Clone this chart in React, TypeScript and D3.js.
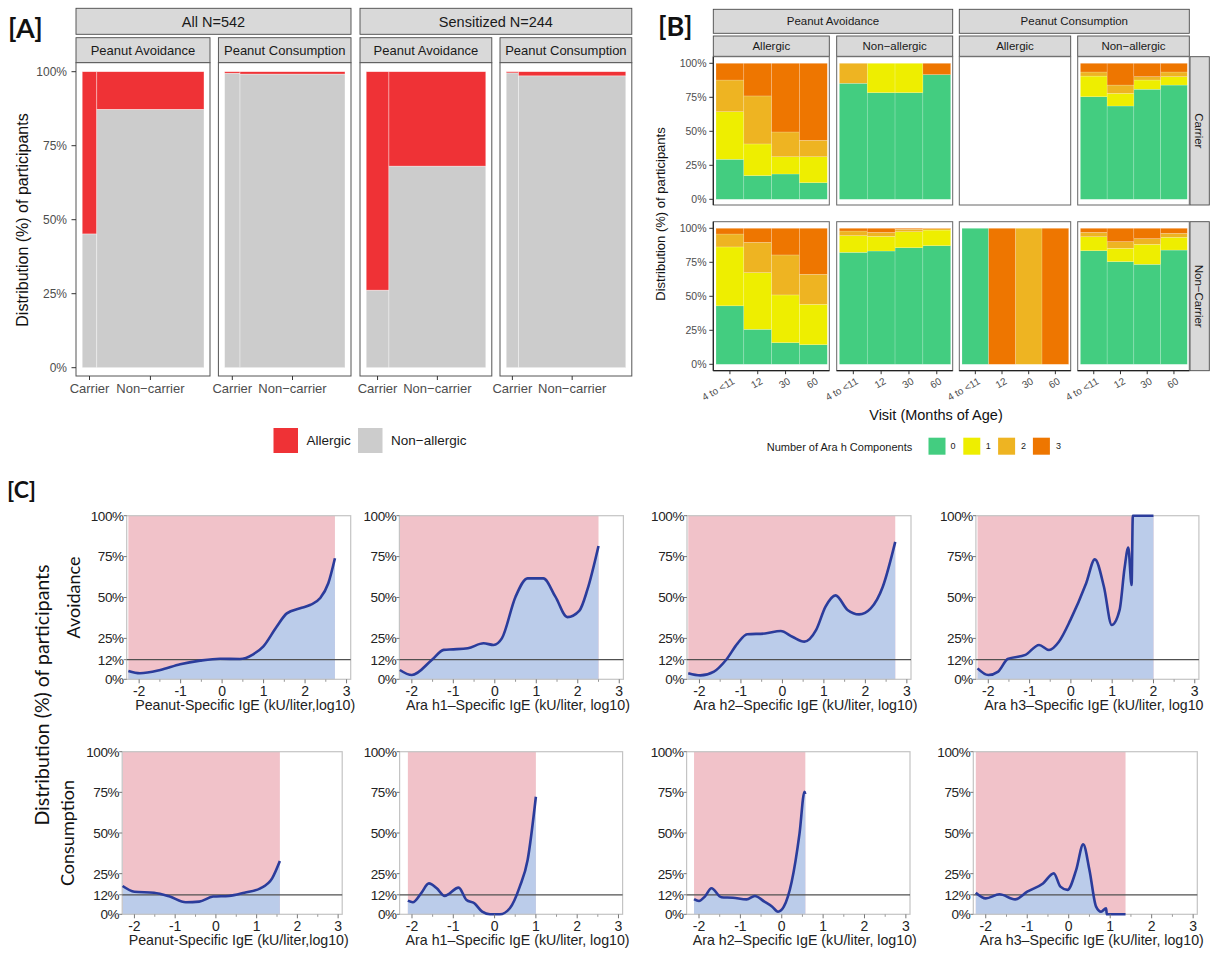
import React from "react";
import * as d3 from "d3";

const W = 1214;
const H = 962;
const SANS = "'Liberation Sans', Arial, Helvetica, sans-serif";
const LATO = "Lato, 'Open Sans', sans-serif";

// ---------------- Panel A: mosaic of allergy status by carrier status ----------------
const cohortsA = ["All N=542", "Sensitized N=244"];
const outcomesA = ["Peanut Avoidance", "Peanut Consumption"];
const genotypesA = ["Carrier", "Non\u2212carrier"];
const statusA = ["Allergic", "Non\u2212allergic"];
// share of each panel's participants that are carriers (column widths)
const carrierShareA = [0.12, 0.128, 0.19, 0.103];
// percent allergic among carriers / non-carriers, panel order:
// All-Avoidance, All-Consumption, Sensitized-Avoidance, Sensitized-Consumption
const allergicCarrierA = [54.8, 0.5, 73.8, 0.4];
const allergicNonCarrierA = [12.7, 0.8, 31.9, 1.4];
const yTicksA = [0, 25, 50, 75, 100];

// ---------------- Panel B: number of Ara h components by visit ----------------
const outcomesB = ["Peanut Avoidance", "Peanut Consumption"];
const statusB = ["Allergic", "Non\u2212allergic"];
const carrierRowsB = ["Carrier", "Non\u2212Carrier"];
const visitsB = ["4 to <11", "12", "30", "60"];
const componentsB = ["0", "1", "2", "3"];
const yTicksB = [0, 25, 50, 75, 100];
// percent of participants with 0,1,2,3 components at each visit
const carrierAvoidAllergic = [[29.4, 35, 23.3, 12.3], [17.4, 23.3, 35.3, 24], [18.6, 12.7, 18.2, 50.5], [12.2, 19.1, 12.1, 56.6]];
const carrierAvoidNonAllergic = [[85.3, 0, 14.7, 0], [78.4, 21.6, 0, 0], [78.4, 21.6, 0, 0], [91.7, 0, 0, 8.3]];
const carrierConsumeAllergic: number[][] = [];
const carrierConsumeNonAllergic = [[75.4, 15.2, 3, 6.4], [68.6, 9.3, 6.1, 16], [80.9, 6.8, 2.5, 9.8], [84, 6.2, 3.4, 6.4]];
const nonCarrierAvoidAllergic = [[43, 43.3, 9.5, 4.2], [25.7, 41.7, 22.3, 10.3], [15.9, 35.1, 29.4, 19.6], [14.4, 29.7, 22.1, 33.8]];
const nonCarrierAvoidNonAllergic = [[82.3, 12.3, 3.4, 2], [83.3, 10.8, 2.9, 3], [85.7, 11.8, 1.8, 0.7], [87.2, 11.5, 1, 0.3]];
const nonCarrierConsumeAllergic = [[100, 0, 0, 0], [0, 0, 0, 100], [0, 0, 100, 0], [0, 0, 0, 100]];
const nonCarrierConsumeNonAllergic = [[83.5, 10.3, 3.2, 3], [75.5, 9.8, 4.9, 9.8], [73.5, 14.7, 4.2, 7.6], [84, 9.4, 2.9, 3.7]];

// ---------------- Panel C: smoothed proportion allergic vs IgE ----------------
const rowLabelsC = ["Avoidance", "Consumption"];
const xTicksC = [-2, -1, 0, 1, 2, 3];
const xMinorC = [-2.5, -1.5, -0.5, 0.5, 1.5, 2.5];
const yTicksC = [0, 12, 25, 50, 75, 100];
const thresholdC = 12;
const axisTitlesTopC = [
  "Peanut-Specific IgE (kU/liter,log10)",
  "Ara h1\u2013Specific IgE (kU/liter, log10)",
  "Ara h2\u2013Specific IgE (kU/liter, log10)",
  "Ara h3\u2013Specific IgE (kU/liter, log10",
];
const axisTitlesBottomC = [
  "Peanut-Specific IgE (kU/liter,log10)",
  "Ara h1\u2013Specific IgE (kU/liter, log10)",
  "Ara h2\u2013Specific IgE (kU/liter, log10)",
  "Ara h3\u2013Specific IgE (kU/liter, log10)",
];
// [log10 IgE, percent allergic]
const peanutAvoid = [[-2.26, 5.1], [-1.98, 3.7], [-1.49, 5.7], [-1.01, 9.2], [-0.53, 11.4], [-0.05, 12.6], [0.43, 12.4], [0.75, 15.3], [0.99, 20], [1.31, 32], [1.56, 40.3], [1.88, 43.4], [2.12, 45.4], [2.36, 49.5], [2.56, 58.7], [2.72, 74]];
const araH1Avoid = [[-2.29, 5.7], [-2.0, 2.6], [-1.52, 11.8], [-1.23, 18], [-1.0, 18.3], [-0.65, 19], [-0.27, 22], [-0.03, 21], [0.17, 25], [0.5, 50.5], [0.79, 61.7], [1.17, 61.7], [1.46, 50.5], [1.75, 38], [2.04, 42], [2.23, 54.6], [2.5, 81.5]];
const araH2Avoid = [[-2.27, 3.7], [-1.98, 2.4], [-1.65, 4.7], [-1.36, 11.8], [-1.08, 22], [-0.85, 27.5], [-0.42, 28], [-0.04, 29.5], [0.24, 26], [0.53, 23], [0.81, 30], [1.04, 44.4], [1.28, 51.3], [1.57, 42.4], [1.85, 39.7], [2.13, 43.4], [2.42, 56.6], [2.72, 84]];
const araH3Avoid = [[-2.26, 6.7], [-2.0, 2.6], [-1.76, 4.7], [-1.53, 12.4], [-1.1, 14.9], [-0.77, 21], [-0.53, 17.9], [-0.29, 23], [-0.01, 36.3], [0.37, 58.7], [0.58, 73.3], [0.8, 56.6], [0.99, 33.2], [1.18, 42.4], [1.3, 68], [1.39, 80.6], [1.47, 57.6], [1.5, 100], [2.0, 100]];
const peanutConsume = [[-2.29, 17.4], [-2.0, 13.9], [-1.52, 13.3], [-1.13, 10.9], [-0.74, 7.4], [-0.41, 7.8], [-0.07, 10.9], [0.32, 11.3], [0.7, 13.3], [1.09, 16], [1.38, 22.1], [1.57, 32.8]];
const araH1Consume = [[-2.1, 8.4], [-1.98, 7.4], [-1.78, 12.9], [-1.59, 19], [-1.4, 16], [-1.21, 11.3], [-0.87, 16.4], [-0.68, 8.8], [-0.49, 6.8], [-0.3, 1.6], [-0.11, 0], [0.13, 0], [0.37, 3.7], [0.61, 17], [0.8, 33.4], [1.0, 72.3]];
const araH2Consume = [[-2.12, 9.4], [-2.0, 8.2], [-1.86, 10.9], [-1.7, 16], [-1.46, 10.5], [-1.18, 10.2], [-0.85, 9.2], [-0.65, 11.3], [-0.42, 7.8], [-0.23, 4.7], [-0.09, 1.6], [0.05, 4.7], [0.24, 20], [0.43, 49.8], [0.55, 75.4], [0.57, 74]];
const araH3Consume = [[-2.24, 13.3], [-2.0, 9.8], [-1.67, 12.3], [-1.29, 9.2], [-1.0, 13.9], [-0.62, 19], [-0.36, 25.2], [-0.2, 17], [-0.03, 15], [0.18, 27.3], [0.35, 43], [0.5, 27.3], [0.66, 4.7], [0.78, 1.6], [0.9, 3.7], [0.92, 0], [1.37, 0]];

// ---------------- colours ----------------
const RED = "#EF3236";
const GREY = "#CCCCCC";
const COMPONENT_COLORS = ["#43CD80", "#EEEE00", "#EEB422", "#EE7600"];
const PINK = "#F1C2C9";
const BLUE_FILL = "#BBCCEA";
const LINE_BLUE = "#2B3C9B";
const STRIP_FILL = "#D9D9D9";
const STRIP_STROKE = "#4a4a4a";

// ---------------- layout ----------------
const A_PANELS = [[76, 210], [218.4, 351], [360, 491.8], [500, 631.8]];
const A_PANEL_TOP = 62.7;
const A_PANEL_BOTTOM = 376;

const B_COLS = [[713.3, 829.3], [836.7, 952.7], [959.3, 1070.7], [1077.7, 1189.3]];
const B_ROWS = [
  { top: 56.7, bottom: 205, y100: 63.3, y0: 199.3 },
  { top: 221.7, bottom: 370.7, y100: 228.3, y0: 364.3 },
];

const C_ROWS = [
  { y100: 515.7, y0: 679.3, frames: [[126.7, 350.7], [399.4, 623.4], [687, 911], [975.9, 1198.9]] },
  { y100: 751.7, y0: 914.3, frames: [[122.2, 342.2], [399.6, 622.6], [686.6, 910], [973.3, 1197.3]] },
];
const C_XDOMAIN = [-2.3, 3.1];

function PanelA() {
  const y = d3.scaleLinear().domain([0, 100]).range([367.7, 71.7]);
  return (
    <g>
      <text x={8} y={38} fontFamily={LATO} fontWeight={700} fontSize={27} fill="#111">[A]</text>
      {cohortsA.map((c, g) => {
        const x0 = A_PANELS[2 * g][0];
        const x1 = A_PANELS[2 * g + 1][1];
        return (
          <g key={c}>
            <rect x={x0} y={8.3} width={x1 - x0} height={26} fill={STRIP_FILL} stroke={STRIP_STROKE} strokeWidth={0.9} />
            <text x={(x0 + x1) / 2} y={21.5} dy="0.36em" textAnchor="middle" fontSize={14.5} fill="#1a1a1a">{c}</text>
          </g>
        );
      })}
      {A_PANELS.map(([x0, x1], i) => {
        const share = carrierShareA[i];
        const xs = d3.scaleLinear().domain([0, 1]).range([x0 + 6.2, x1 - 6]);
        const cols = [
          { name: genotypesA[0], lo: 0, hi: share, allergic: allergicCarrierA[i] },
          { name: genotypesA[1], lo: share, hi: 1, allergic: allergicNonCarrierA[i] },
        ];
        return (
          <g key={i}>
            <rect x={x0} y={37.7} width={x1 - x0} height={25} fill={STRIP_FILL} stroke={STRIP_STROKE} strokeWidth={0.9} />
            <text x={(x0 + x1) / 2} y={50.2} dy="0.36em" textAnchor="middle" fontSize={13} fill="#1a1a1a">{outcomesA[i % 2]}</text>
            <rect x={x0} y={A_PANEL_TOP} width={x1 - x0} height={A_PANEL_BOTTOM - A_PANEL_TOP} fill="#fff" stroke="#555" strokeWidth={1} />
            {cols.map((c) => (
              <g key={c.name}>
                <rect x={xs(c.lo)} y={y(100 - c.allergic)} width={xs(c.hi) - xs(c.lo)} height={y(0) - y(100 - c.allergic)} fill={GREY} stroke="#fff" strokeOpacity={0.6} strokeWidth={0.6} />
                <rect x={xs(c.lo)} y={y(100)} width={xs(c.hi) - xs(c.lo)} height={y(100 - c.allergic) - y(100)} fill={RED} stroke="#fff" strokeOpacity={0.6} strokeWidth={0.6} />
                <line x1={xs((c.lo + c.hi) / 2)} x2={xs((c.lo + c.hi) / 2)} y1={A_PANEL_BOTTOM} y2={A_PANEL_BOTTOM + 4} stroke="#333" strokeWidth={1} />
                <text x={xs((c.lo + c.hi) / 2)} y={392.5} textAnchor="middle" fontSize={13} fill="#4d4d4d">{c.name}</text>
              </g>
            ))}
          </g>
        );
      })}
      {yTicksA.map((t) => (
        <g key={t}>
          <line x1={71.5} x2={76} y1={y(t)} y2={y(t)} stroke="#333" strokeWidth={1} />
          <text x={67} y={y(t)} dy="0.36em" textAnchor="end" fontSize={12} fill="#4d4d4d">{t}%</text>
        </g>
      ))}
      <text transform="translate(28,220) rotate(-90)" textAnchor="middle" fontSize={16} fill="#111">Distribution (%) of participants</text>
      {/* legend */}
      {statusA.map((s, i) => {
        const lx = [273.5, 358][i];
        return (
          <g key={s}>
            <rect x={lx} y={428} width={24.5} height={25} fill={i === 0 ? RED : GREY} />
            <text x={lx + 33} y={440.5} dy="0.36em" fontSize={13.5} fill="#1a1a1a">{s}</text>
          </g>
        );
      })}
    </g>
  );
}

function PanelB() {
  const grid = [
    [carrierAvoidAllergic, carrierAvoidNonAllergic, carrierConsumeAllergic, carrierConsumeNonAllergic],
    [nonCarrierAvoidAllergic, nonCarrierAvoidNonAllergic, nonCarrierConsumeAllergic, nonCarrierConsumeNonAllergic],
  ];
  const stack = d3.stack<Record<string, number>>().keys(componentsB);
  return (
    <g>
      <text x={658} y={36} fontFamily={LATO} fontWeight={700} fontSize={27} fill="#111">[B]</text>
      {outcomesB.map((o, g) => {
        const x0 = B_COLS[2 * g][0];
        const x1 = B_COLS[2 * g + 1][1];
        return (
          <g key={o}>
            <rect x={x0} y={9.3} width={x1 - x0} height={24} fill={STRIP_FILL} stroke={STRIP_STROKE} strokeWidth={0.9} />
            <text x={(x0 + x1) / 2} y={21.3} dy="0.36em" textAnchor="middle" fontSize={11.5} fill="#1a1a1a">{o}</text>
          </g>
        );
      })}
      {B_COLS.map(([x0, x1], c) => (
        <g key={c}>
          <rect x={x0} y={36} width={x1 - x0} height={20.3} fill={STRIP_FILL} stroke={STRIP_STROKE} strokeWidth={0.9} />
          <text x={(x0 + x1) / 2} y={46.2} dy="0.36em" textAnchor="middle" fontSize={11.5} fill="#1a1a1a">{statusB[c % 2]}</text>
        </g>
      ))}
      {B_ROWS.map((row, r) => {
        const y = d3.scaleLinear().domain([0, 100]).range([row.y0, row.y100]);
        return (
          <g key={r}>
            <rect x={1190} y={row.top} width={19.3} height={row.bottom - row.top} fill={STRIP_FILL} stroke={STRIP_STROKE} strokeWidth={0.9} />
            <text transform={`translate(1199.6,${(row.top + row.bottom) / 2}) rotate(90)`} dy="0.36em" textAnchor="middle" fontSize={11.5} fill="#1a1a1a">{carrierRowsB[r]}</text>
            {B_COLS.map(([x0, x1], c) => {
              const x = d3.scaleBand().domain(visitsB).range([x0 + 2.7, x1 - 2]).padding(0);
              const rowsData = grid[r][c].map((v, k) => {
                const rec: Record<string, number> = {};
                componentsB.forEach((comp, j) => (rec[comp] = v[j]));
                rec.__visit = k;
                return rec;
              });
              const series = stack(rowsData);
              return (
                <g key={c}>
                  <rect x={x0} y={row.top} width={x1 - x0} height={row.bottom - row.top} fill="#fff" stroke="#666" strokeWidth={1} />
                  {series.map((s, j) => (
                    <g key={j}>
                      {s.map((d, k) =>
                        d[1] - d[0] > 0 ? (
                          <rect key={k} x={x(visitsB[k])} y={y(d[1])} width={x.bandwidth()} height={y(d[0]) - y(d[1])} fill={COMPONENT_COLORS[j]} stroke="#fff" strokeOpacity={0.35} strokeWidth={0.5} />
                        ) : null
                      )}
                    </g>
                  ))}
                  {c === 0 && <line x1={x0} x2={x0} y1={row.top} y2={row.bottom} stroke="#222" strokeWidth={1.2} />}
                  {r === 1 && (
                    <g>
                      <line x1={x0} x2={x1} y1={row.bottom} y2={row.bottom} stroke="#222" strokeWidth={1.2} />
                      {visitsB.map((v) => {
                        const cx = (x(v) as number) + x.bandwidth() / 2;
                        return (
                          <g key={v}>
                            <line x1={cx} x2={cx} y1={row.bottom} y2={row.bottom + 3.5} stroke="#333" strokeWidth={1} />
                            <text transform={`translate(${cx + 2},${row.bottom + 6.5}) rotate(-30)`} dy="0.7em" textAnchor="end" fontSize={10} fill="#4d4d4d">{v}</text>
                          </g>
                        );
                      })}
                    </g>
                  )}
                </g>
              );
            })}
            {yTicksB.map((t) => (
              <g key={t}>
                <line x1={709.3} x2={713.3} y1={y(t)} y2={y(t)} stroke="#333" strokeWidth={1} />
                <text x={706.5} y={y(t)} dy="0.36em" textAnchor="end" fontSize={10.5} fill="#4d4d4d">{t}%</text>
              </g>
            ))}
          </g>
        );
      })}
      <text transform="translate(665,214) rotate(-90)" textAnchor="middle" fontSize={13} fill="#111">Distribution (%) of participants</text>
      <text x={936} y={420} textAnchor="middle" fontSize={14.5} fill="#111">Visit (Months of Age)</text>
      <text x={766.7} y={450.5} fontSize={11} fill="#1a1a1a">Number of Ara h Components</text>
      {componentsB.map((k, i) => (
        <g key={k}>
          <rect x={928.5 + i * 34.8} y={437.7} width={17} height={17} fill={COMPONENT_COLORS[i]} />
          <text x={953 + i * 35.2} y={446.2} dy="0.36em" textAnchor="middle" fontSize={9} fill="#1a1a1a">{k}</text>
        </g>
      ))}
    </g>
  );
}

function SmoothPlot({ data, frame, row, title }: { data: number[][]; frame: number[]; row: { y100: number; y0: number }; title: string }) {
  const [fx0, fx1] = frame;
  const x = d3.scaleLinear().domain(C_XDOMAIN).range([fx0, fx1]);
  const y = d3.scaleLinear().domain([0, 100]).range([row.y0, row.y100]);
  const area = d3.area<number[]>().x((d) => x(d[0])).y0(y(0)).y1((d) => y(d[1])).curve(d3.curveMonotoneX);
  const line = d3.line<number[]>().x((d) => x(d[0])).y((d) => y(d[1])).curve(d3.curveMonotoneX);
  const first = data[0][0];
  const last = data[data.length - 1][0];
  return (
    <g>
      <rect x={fx0} y={row.y100} width={fx1 - fx0} height={row.y0 - row.y100} fill="#fff" />
      <rect x={x(first)} y={y(100)} width={x(last) - x(first)} height={y(0) - y(100)} fill={PINK} />
      <path d={area(data) || ""} fill={BLUE_FILL} />
      <rect x={fx0} y={row.y100} width={fx1 - fx0} height={row.y0 - row.y100} fill="none" stroke="#c4c4c4" strokeWidth={1.2} />
      <line x1={fx0} x2={fx1} y1={y(thresholdC)} y2={y(thresholdC)} stroke="#505050" strokeWidth={1.3} />
      <path d={line(data) || ""} fill="none" stroke={LINE_BLUE} strokeWidth={2.6} strokeLinejoin="round" />
      {yTicksC.map((t) => (
        <g key={t}>
          <line x1={fx0 - 3} x2={fx0} y1={y(t)} y2={y(t)} stroke="#777" strokeWidth={1} />
          <text x={fx0 - 3} y={y(t)} dy="0.36em" textAnchor="end" fontSize={13.5} fill="#222" letterSpacing={-0.4}>{t}%</text>
        </g>
      ))}
      {xTicksC.map((t) => (
        <g key={t}>
          <line x1={x(t)} x2={x(t)} y1={row.y0} y2={row.y0 + 4} stroke="#777" strokeWidth={1} />
          <text x={x(t)} y={row.y0 + 17} textAnchor="middle" fontSize={14} fill="#222">{t}</text>
        </g>
      ))}
      {xMinorC.map((t) => (
        <line key={t} x1={x(t)} x2={x(t)} y1={row.y0} y2={row.y0 + 2.5} stroke="#999" strokeWidth={1} />
      ))}
      <text x={(fx0 + fx1) / 2 + 6.5} y={row.y0 + 31} textAnchor="middle" fontSize={14.2} fill="#222">{title}</text>
    </g>
  );
}

function PanelC() {
  const topData = [peanutAvoid, araH1Avoid, araH2Avoid, araH3Avoid];
  const bottomData = [peanutConsume, araH1Consume, araH2Consume, araH3Consume];
  return (
    <g>
      <text x={7} y={498} fontFamily={LATO} fontWeight={700} fontSize={23} fill="#111">[C]</text>
      <text transform="translate(49,695) rotate(-90)" textAnchor="middle" fontFamily={LATO} fontSize={19.5} fill="#111">Distribution (%) of participants</text>
      <text transform={`translate(80,${(C_ROWS[0].y0 + C_ROWS[0].y100) / 2}) rotate(-90)`} textAnchor="middle" fontFamily={LATO} fontSize={18} fill="#111">{rowLabelsC[0]}</text>
      <text transform={`translate(74,${(C_ROWS[1].y0 + C_ROWS[1].y100) / 2}) rotate(-90)`} textAnchor="middle" fontFamily={LATO} fontSize={18} fill="#111">{rowLabelsC[1]}</text>
      {topData.map((d, i) => (
        <SmoothPlot key={`t${i}`} data={d} frame={C_ROWS[0].frames[i]} row={C_ROWS[0]} title={axisTitlesTopC[i]} />
      ))}
      {bottomData.map((d, i) => (
        <SmoothPlot key={`b${i}`} data={d} frame={C_ROWS[1].frames[i]} row={C_ROWS[1]} title={axisTitlesBottomC[i]} />
      ))}
    </g>
  );
}

export default function App() {
  return (
    <svg
      width={W}
      height={H}
      viewBox={`0 0 ${W} ${H}`}
      style={{ position: "absolute", left: 0, top: 0, background: "#fff" }}
      fontFamily={SANS}
    >
      <rect x={0} y={0} width={W} height={H} fill="#fff" />
      <PanelA />
      <PanelB />
      <PanelC />
    </svg>
  );
}
